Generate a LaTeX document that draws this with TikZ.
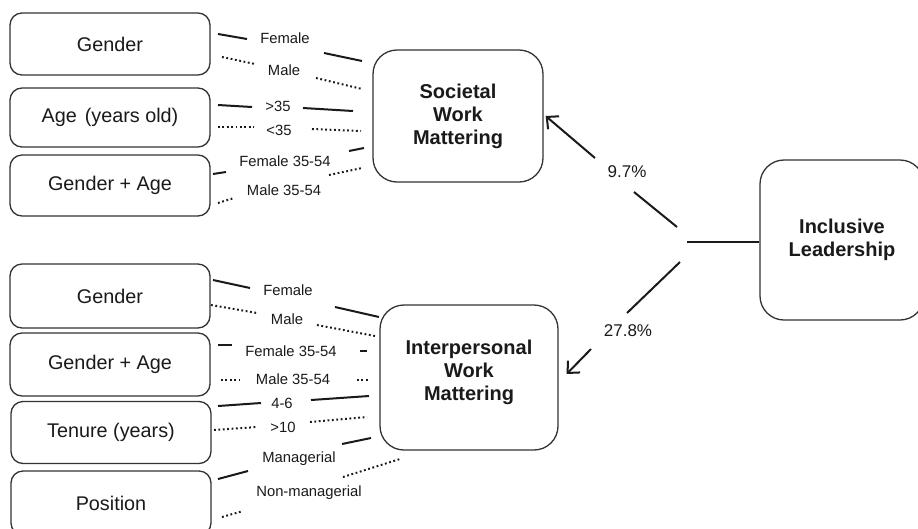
\documentclass[tikz,border=0pt]{standalone}
\usepackage{fontspec}
\setmainfont{Liberation Sans}
\usetikzlibrary{arrows.meta,calc}
\definecolor{ink}{HTML}{1A1A1A}
\definecolor{boxline}{HTML}{333333}
\tikzset{
 leftbox/.style={draw=boxline, line width=1.3pt, rounded corners=12pt, minimum width=200pt, inner sep=0pt, font=\fontsize{19.8}{23}\selectfont, text=ink},
 midbox/.style={draw=boxline, line width=1.3pt, rounded corners=24pt, inner sep=0pt, align=center, font=\fontsize{20}{23}\selectfont\bfseries, text=ink},
 midtext/.style={inner sep=0pt, align=center, font=\fontsize{20}{23}\selectfont\bfseries, text=ink},
 lab/.style={font=\fontsize{14.8}{16}\selectfont, text=ink, inner sep=0pt},
 pct/.style={font=\fontsize{17}{19}\selectfont, text=ink, inner sep=0pt},
 solidc/.style={line width=2pt, draw=ink},
 dotc/.style={line width=2pt, draw=ink, dash pattern=on 1.8pt off 2.6pt},
 arr/.style={line width=2pt, draw=ink, -{Straight Barb[length=9pt,width=17pt,line width=2pt]}},
}
\newcommand\conn[9]{%
 \coordinate (#1a) at (#3); \coordinate (#1b) at (#4);
 \coordinate (#1c) at (#5); \coordinate (#1d) at (#6);
 \draw[#2] (#1a) -- (#1b); \draw[#2] (#1c) -- (#1d);
 \node[lab] (#1l) at (#7,#8) {#9};}
\begin{document}
\begin{tikzpicture}[x=1pt,y=-1pt]
\useasboundingbox (0,0) rectangle (918,528);
\clip (0,0) rectangle (918,528);
\fill[white] (0,0) rectangle (918,528);
% left boxes, top group
\node[leftbox, minimum height=62pt] (g1) at (110,44) {Gender};
\node[leftbox, minimum height=59pt] (a1) at (110,117.5) {Age\hspace{0.4em}(years old)};
\node[leftbox, minimum height=61pt] (ga1) at (110,185.5) {Gender + Age};
% left boxes, bottom group
\node[leftbox, minimum height=64pt] (g2) at (110,296) {Gender};
\node[leftbox, minimum height=63pt] (ga2) at (110,364.5) {Gender + Age};
\node[leftbox, minimum height=62pt] (t2) at (111,432.5) {Tenure (years)};
\node[leftbox, minimum height=64pt] (p2) at (111,503) {Position};
% middle and right boxes
\node[midbox, minimum width=170pt, minimum height=132pt] (swm) at (458,116) {Societal\\Work\\Mattering};
\node[midbox, minimum width=178pt, minimum height=145pt] (iwm) at (469,377.5) {};
\node[midtext] (iwmt) at ($(iwm.center)+(0,-5)$) {Interpersonal\\Work\\Mattering};
\node[midbox, minimum width=164pt, minimum height=160pt] (il) at (842,240) {Inclusive\\Leadership};
% connectors, top group
\conn{c1}{solidc}{218,34}{247,39}{324,53}{362,61}{285}{38}{Female}
\conn{c2}{dotc}{222,57}{255,64}{316,78}{362,89}{284}{70}{Male}
\conn{c3}{solidc}{218,105}{252,107}{303,108}{353,111}{278}{106}{>35}
\conn{c4}{dotc}{218,127}{254,127}{312,129}{361,131}{279}{130}{<35}
\conn{c5}{solidc}{213,174}{226,172}{349,151}{364,148}{285}{161}{Female 35-54}
\conn{c6}{dotc}{218,203}{234,198}{329,175}{362,168}{284}{190}{Male 35-54}
% connectors, bottom group
\conn{c7}{solidc}{213,280}{250,288}{335,307}{379,317}{288}{290}{Female}
\conn{c8}{dotc}{211,305}{257,313}{317,325}{375,336}{287}{319}{Male}
\conn{c9}{solidc}{218,345}{232,345}{360,351}{367,351}{291}{351}{Female 35-54}
\conn{c10}{dotc}{221,380}{240,380}{357,380}{368,380}{293}{379}{Male 35-54}
\conn{c11}{solidc}{218,406}{261,403}{311,400}{369,396}{282}{403}{4-6}
\conn{c12}{dotc}{214,430}{257,427}{310,422}{367,417}{283}{427}{>10}
\conn{c13}{solidc}{218,479}{248,471}{342,444}{371,438}{299}{459}{Managerial}
\conn{c14}{dotc}{222,517}{243,511}{343,477}{400,459}{309}{493}{Non-managerial}
% paths from Inclusive Leadership
\coordinate (hb) at (687,242);
\draw[solidc] (hb) -- (hb -| il.west);
\coordinate (u1) at (677,227);
\coordinate (u2) at (634,192);
\coordinate (u3) at (595,158);
\draw[solidc] (u1) -- (u2);
\draw[arr] (u3) -- ($(swm.east)+(2,0)$);
\node[pct] (p97) at (627,172) {9.7\%};
\coordinate (l1) at (680,262);
\coordinate (l2) at (627,313);
\coordinate (l3) at (591,349);
\draw[solidc] (l1) -- (l2);
\draw[arr] (l3) -- ($(iwm.east)+(8,-3.5)$);
\node[pct] (p278) at (628,331) {27.8\%};
\end{tikzpicture}
\end{document}
